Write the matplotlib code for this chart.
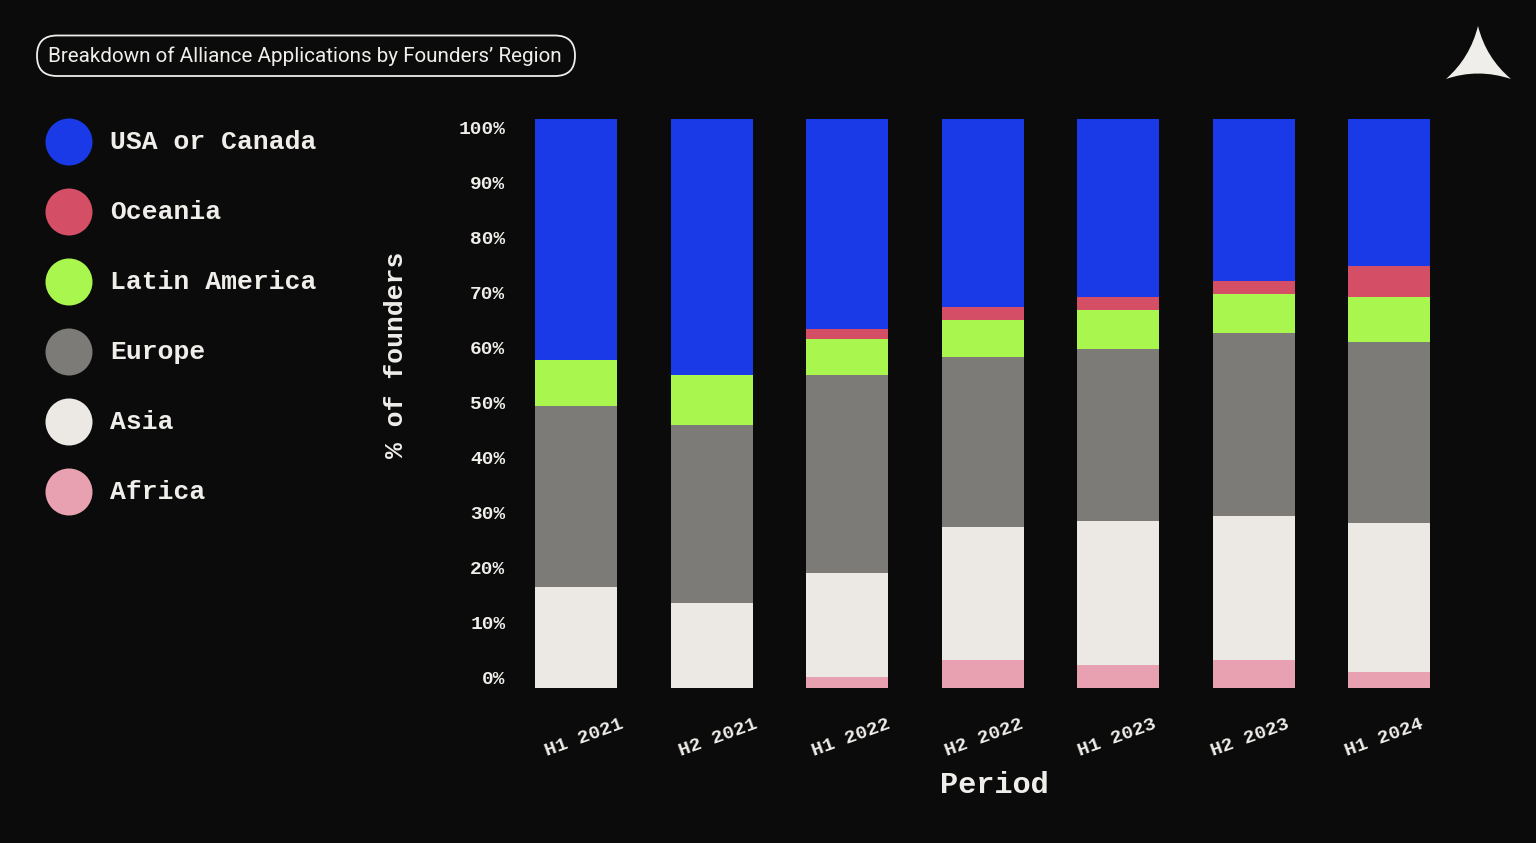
import matplotlib
matplotlib.use("Agg")
import matplotlib.pyplot as plt
from matplotlib.patches import FancyBboxPatch, Ellipse, PathPatch
from matplotlib.path import Path

periods = ["H1 2021", "H2 2021", "H1 2022", "H2 2022", "H1 2023", "H2 2023", "H1 2024"]
africa = [0, 0, 1.8, 4.75, 3.9, 4.75, 2.8]
asia = [17.6, 14.8, 18.4, 23.55, 25.3, 25.35, 26.2]
europe = [31.9, 31.3, 34.7, 29.8, 30.3, 32.2, 31.7]
latin = [8.1, 8.8, 6.4, 6.5, 6.9, 6.9, 8.0]
oceania = [0, 0, 1.7, 2.3, 2.3, 2.3, 5.4]
usa = [42.4, 45.1, 37.0, 33.1, 31.3, 28.5, 25.9]

# stacked from the bottom up
series = [africa, asia, europe, latin, oceania, usa]
colors = ["#e8a1b0", "#ece9e4", "#7c7b78", "#a9f64f", "#d44f65", "#1a3ae8"]

legend_names = ["USA or Canada", "Oceania", "Latin America", "Europe", "Asia", "Africa"]
legend_colors = ["#1a3ae8", "#d44f65", "#a9f64f", "#7c7b78", "#ece9e4", "#e8a1b0"]

bg = "#0b0b0b"
fg = "#f0eeea"
mono = "Liberation Mono"
W, H = 1536, 843

fig = plt.figure(figsize=(W / 100, H / 100), dpi=100, facecolor=bg)

# bar axes, placed in pixels of the picture
left, right, top, bottom = 512.4, 1465.4, 119, 687.5
ax = fig.add_axes([left / W, 1 - bottom / H, (right - left) / W, (bottom - top) / H], facecolor=bg)

base = [0] * len(periods)
for vals, col in zip(series, colors):
    ax.bar(range(len(periods)), vals, width=0.605, bottom=base, color=col, linewidth=0)
    base = [b + v for b, v in zip(base, vals)]

ax.set_xlim(-0.472, 6.561)
ax.set_ylim(0, 100)
for s in ax.spines.values():
    s.set_visible(False)

# the labels in the original don't line up exactly with the bars
ax.set_yticks([1.75 + i * 9.68 for i in range(11)])
ax.set_yticklabels([f"{i * 10}%" for i in range(11)], fontfamily=mono, fontweight="bold", fontsize=14, color=fg)
ax.set_xticks([0.06 + i * 0.983 for i in range(len(periods))])
ax.set_xticklabels(periods, fontfamily=mono, fontweight="bold", fontsize=14, color=fg,
                   rotation=20, rotation_mode="anchor", ha="center", va="center")
ax.tick_params(axis="y", length=0, pad=5)
ax.tick_params(axis="x", length=0, pad=36)

# overlay in pixel coords for title, legend and logo
ov = fig.add_axes([0, 0, 1, 1], facecolor="none")
ov.set_xlim(0, W)
ov.set_ylim(H, 0)
ov.axis("off")

ov.add_patch(FancyBboxPatch((37, 35.5), 538, 40.5, boxstyle="round,pad=0,rounding_size=20",
                            fc=bg, ec=fg, lw=1.3))
ov.text(304.5, 56, "Breakdown of Alliance Applications by Founders\u2019 Region", family="Roboto",
        fontsize=14.9, color=fg, ha="center", va="center")

for i, (name, col) in enumerate(zip(legend_names, legend_colors)):
    y = 142 + i * 70
    ov.add_patch(Ellipse((69, y), 47, 47, fc=col, ec="none"))
    ov.text(110, y, name, family=mono, fontweight="bold", fontsize=19, color=fg, va="center")

ov.text(396, 355, "% of founders", family=mono, fontweight="bold", fontsize=19, color=fg,
        rotation=90, ha="center", va="center")
ov.text(994, 785, "Period", family=mono, fontweight="bold", fontsize=21.8, color=fg,
        ha="center", va="center")

logo = Path([(1478, 26), (1486, 58), (1511, 79), (1478, 68), (1446, 79), (1470, 58), (1478, 26)],
            [Path.MOVETO, Path.CURVE3, Path.CURVE3, Path.CURVE3, Path.CURVE3, Path.CURVE3, Path.CURVE3])
ov.add_patch(PathPatch(logo, fc=fg, ec="none"))

fig.savefig("out.png", dpi=100, facecolor=bg)
